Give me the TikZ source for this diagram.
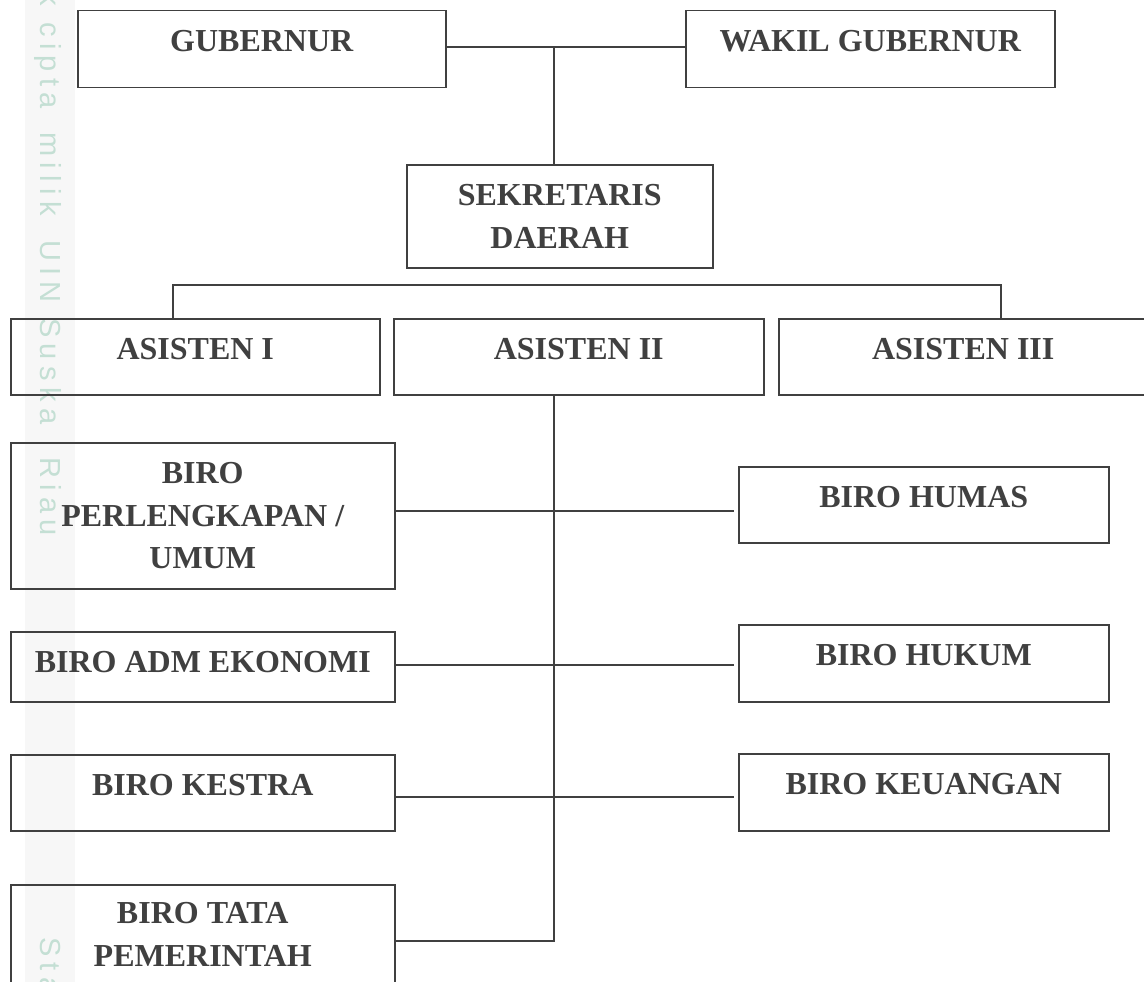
\documentclass[tikz,border=0pt]{standalone}
\usepackage{fontspec}
\setmainfont{Liberation Serif}
\newfontfamily\wmfont[LetterSpace=22]{Liberation Sans}
\definecolor{ink}{HTML}{404040}
\definecolor{wmark}{RGB}{196,223,212}

\begin{document}
\begin{tikzpicture}[x=1pt, y=-1pt,
    box/.style 2 args={draw=ink, line width=1.5pt, text=ink, inner sep=0pt,
      anchor=north west, minimum width=#1pt, minimum height=#2pt,
      font=\bfseries\fontsize{32}{42.5}\selectfont},
    single/.style={text height=21pt, text depth=#1pt},
    multi/.style={align=center},
    link/.style={ink, line width=1.5pt},
    wm/.style={wmark, rotate=-90, anchor=base west, inner sep=0pt,
      font=\wmfont\fontsize{29}{29}\selectfont}]

    \path[use as bounding box, fill=white] (0,0) rectangle (1144,982);
    \clip (0,0) rectangle (1144,982);

    % watermark in the left margin
    \fill[black!3] (25,0) rectangle (75,982);
    \node[wm, anchor=base east] (w0) at (40,6) {Hak};
    \node[wm] (w1) at (40,22) {cipta};
    \node[wm] (w2) at (40,132) {milik};
    \node[wm] (w3) at (40,240) {UIN};
    \node[wm] (w4) at (40,318) {Suska};
    \node[wm] (w5) at (40,457) {Riau};
    \node[wm] (w6) at (40,937) {Sta};

    % boxes
    \node[box={368}{77}, single=16] (gub) at (77,10) {GUBERNUR};
    \node[box={369}{77}, single=16] (wakil) at (685,10) {WAKIL GUBERNUR};
    \node[box={306}{103}, multi] (sek) at (406,164) {SEKRETARIS\\DAERAH};

    \node[box={369}{76}, single=15] (as1) at (10,318) {ASISTEN I};
    \node[box={370}{76}, single=15] (as2) at (393,318) {ASISTEN II};
    \node[box={369}{76}, single=15] (as3) at (778,318) {ASISTEN III};

    \node[box={384}{146}, multi] (perl) at (10,442) {BIRO\\PERLENGKAPAN /\\UMUM};
    \node[box={370}{76}, single=15] (humas) at (738,466) {BIRO HUMAS};
    \node[box={384}{70}, single=9] (adm) at (10,631) {BIRO ADM EKONOMI};
    \node[box={370}{77}, single=16] (hukum) at (738,624) {BIRO HUKUM};
    \node[box={384}{76}, single=15] (kestra) at (10,754) {BIRO KESTRA};
    \node[box={370}{77}, single=16] (keu) at (738,753) {BIRO KEUANGAN};
    \node[box={384}{142}, multi] (tata) at (10,884) {BIRO TATA\\PEMERINTAH\\\phantom{X}};

    % lines
    \coordinate (top) at (554,47);
    \draw[link] (top -| gub.east) -- (top -| wakil.west);
    \draw[link] (top) -- (top |- sek.north);

    \coordinate (busL) at (173,285);
    \coordinate (busR) at (1001,285);
    \draw[link] (busL |- as1.north) -- (busL) -- (busR) -- (busR |- as3.north);

    \coordinate (trunk) at (554,941);
    \draw[link] (trunk |- as2.south) -- (trunk) -- (trunk -| tata.east);
    \foreach \y/\l/\r in {511/perl/humas, 665/adm/hukum, 797/kestra/keu}{
      \coordinate (j) at (554,\y);
      \draw[link, shorten >=4pt] (j -| \l.east) -- (j -| \r.west);
    }

\end{tikzpicture}
\end{document}
